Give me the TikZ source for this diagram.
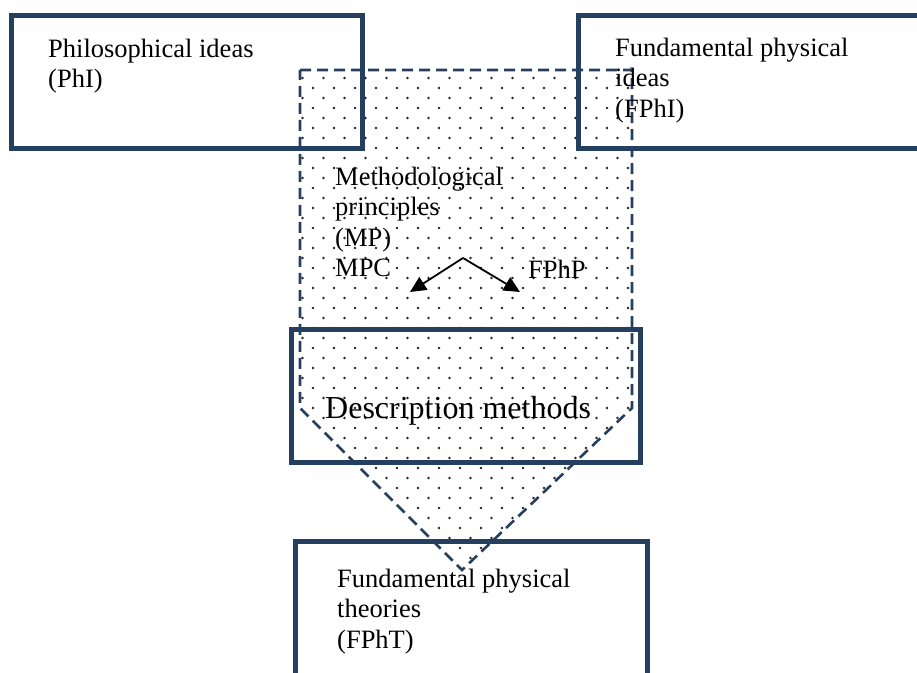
\documentclass[tikz,border=0pt]{standalone}
\usepackage{fontspec}
\setmainfont{Liberation Serif}
\usetikzlibrary{arrows.meta}
\definecolor{navy}{HTML}{243F60}
\definecolor{dotc}{HTML}{222222}
\begin{document}
\begin{tikzpicture}[x=1pt,y=-1pt,
  box/.style={draw=navy,line width=5pt,inner sep=0pt},
  lbl/.style={anchor=base west,inner sep=0pt,font=\fontsize{26.5}{30.5}\selectfont},
  bigl/.style={anchor=base west,inner sep=0pt,font=\fontsize{32}{36}\selectfont},
  dashshape/.style={draw=navy,line width=2.6pt,dash pattern=on 11pt off 6pt},
  arr/.style={draw=black,line width=1.8pt,-{Triangle[length=16pt,width=15pt]}}]
\useasboundingbox (0,0) rectangle (917,672);
\clip (0,0) rectangle (917,672);
% dotted pentagon
\begin{scope}
\clip (300,70) -- (632,70) -- (632,408) -- (462,570) -- (300,408) -- cycle;
\foreach \i in {0,...,50} {
  \pgfmathsetmacro{\yy}{68+10*\i}
  \pgfmathsetmacro{\xb}{mod(\i,2)==0 ? 292 : 302.5}
  \foreach \j in {0,...,16} {
    \fill[dotc] (\xb+21*\j,\yy) circle[radius=1.4pt];
  }
}
\end{scope}
\draw[dashshape] (300,70) -- (632,70) -- (632,408) -- (462,570) -- (300,408) -- cycle;
% boxes
\node[box,minimum width=351pt,minimum height=133pt] (phi) at (186.5,81.5) {};
\node[box,minimum width=357pt,minimum height=133pt] (fphi) at (756.5,81.5) {};
\node[box,minimum width=349pt,minimum height=133pt] (desc) at (466,396) {};
\node[box,minimum width=352pt,minimum height=160pt] (fpht) at (471.5,621.5) {};
% texts
\node[lbl] (phit) at (48,57) {\begin{tabular}[t]{@{}l@{}}Philosophical ideas\\(PhI)\end{tabular}};
\node[lbl] (fphit) at (615,56) {\begin{tabular}[t]{@{}l@{}}Fundamental physical\\ideas\\(FPhI)\end{tabular}};
\node[lbl] (mpt) at (335,185) {\begin{tabular}[t]{@{}l@{}}Methodological\\principles\\(MP)\\MPC\end{tabular}};
\node[lbl] (fphp) at (528,278) {FPhP};
\node[bigl] (desct) at (325,418) {Description methods};
\node[lbl] (fphtt) at (337,587) {\begin{tabular}[t]{@{}l@{}}Fundamental physical\\theories\\(FPhT)\end{tabular}};
% arrows
\coordinate (apex) at (463,258);
\coordinate (mpctip) at (410,292);
\coordinate (fphptip) at (520,292);
\draw[arr] (apex) -- (mpctip);
\draw[arr] (apex) -- (fphptip);
\end{tikzpicture}
\end{document}
